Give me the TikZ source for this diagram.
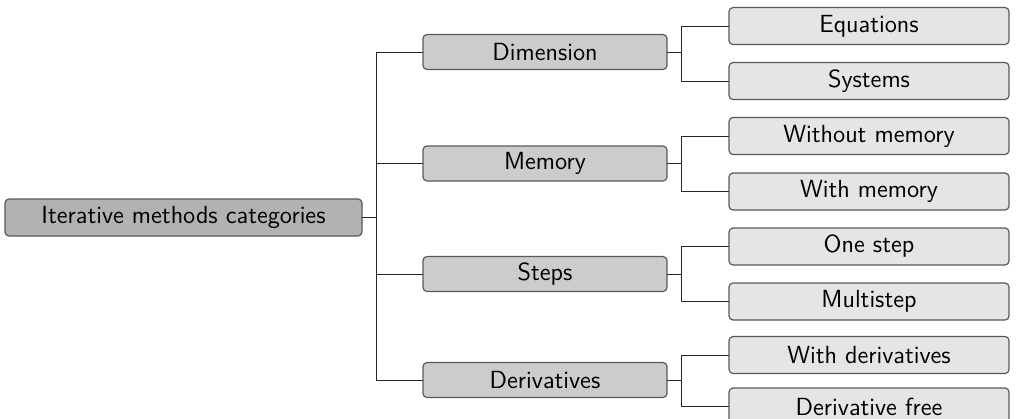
\documentclass[tikz,border=0pt]{standalone}
\usetikzlibrary{positioning}

\begin{document}
\begin{tikzpicture}[line cap=round,line join=round,x=0.5pt,y=-0.5pt,
  box/.style={draw=black!65,line width=0.6pt,rounded corners=2pt,inner sep=0pt,
    font=\sffamily\fontsize{12.4}{14}\selectfont},
  rootbox/.style={box,fill=black!30,minimum width=178.5pt,minimum height=18.5pt},
  catbox/.style={box,fill=black!20,minimum width=122pt,minimum height=17.5pt},
  leafbox/.style={box,fill=black!10,minimum width=140pt,minimum height=18.5pt},
  fork/.style={line width=0.5pt,black!85}]
\useasboundingbox (0,0) rectangle (1016,418);
\clip (0,0) rectangle (1016,418);
% root and the four categories
\node [rootbox] (root) at (183.5,217.5) {Iterative methods categories};
\node [catbox] (dim) at (545,52) {Dimension};
\node [catbox] (mem) at (545,163.5) {Memory};
\node [catbox] (stp) at (545,274) {Steps};
\node [catbox] (der) at (545,380) {Derivatives};
% leaves
\node [leafbox] (equ) at (869,26) {Equations};
\node [leafbox] (sys) at (869,81) {Systems};
\node [leafbox] (wom) at (869,136) {Without memory};
\node [leafbox] (wim) at (869,191.5) {With memory};
\node [leafbox] (one) at (869,246.5) {One step};
\node [leafbox] (mul) at (869,301.5) {Multistep};
\node [leafbox] (wid) at (869,355) {With derivatives};
\node [leafbox] (dfr) at (869,406.5) {Derivative free};
% forked edges
\draw [fork] (root.east) -- ++(14,0) |- (dim.west);
\draw [fork] (root.east) -- ++(14,0) |- (mem.west);
\draw [fork] (root.east) -- ++(14,0) |- (stp.west);
\draw [fork] (root.east) -- ++(14,0) |- (der.west);
\draw [fork] (dim.east) -- ++(14,0) |- (equ.west);
\draw [fork] (dim.east) -- ++(14,0) |- (sys.west);
\draw [fork] (mem.east) -- ++(14,0) |- (wom.west);
\draw [fork] (mem.east) -- ++(14,0) |- (wim.west);
\draw [fork] (stp.east) -- ++(14,0) |- (one.west);
\draw [fork] (stp.east) -- ++(14,0) |- (mul.west);
\draw [fork] (der.east) -- ++(14,0) |- (wid.west);
\draw [fork] (der.east) -- ++(14,0) |- (dfr.west);
\end{tikzpicture}
\end{document}
